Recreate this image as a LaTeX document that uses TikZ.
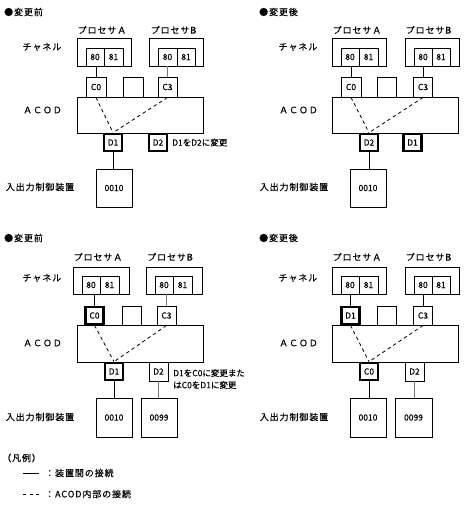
\documentclass[tikz,border=0pt]{standalone}
\usepackage{fontspec}
\setmainfont{Noto Sans CJK JP}[FakeBold=0.3]
\newfontfamily\jpw{Noto Sans CJK JP}[LetterSpace=10,FakeBold=0.3]
\definecolor{lgray}{RGB}{120,120,120}
\begin{document}
\begin{tikzpicture}[x=1pt,y=-1pt,
  lab/.style={inner sep=0pt, font={\jpw\fontsize{9}{11}\selectfont}},
  note/.style={inner sep=0pt, font={\fontsize{8.5}{12}\selectfont}, align=left},
  box/.style={draw, fill=white, line width=0.9pt, inner sep=0pt, font={\fontsize{8.5}{9}\selectfont}},
  tbox/.style={box, line width=2.6pt, minimum width=18, minimum height=17},
  sbox/.style={box, minimum width=19, minimum height=19},
  conn/.style={line width=0.9pt},
  conng/.style={line width=1.8pt, draw=lgray},
  acodline/.style={line width=0.8pt, dash pattern=on 3.5pt off 3pt}]
\useasboundingbox (0,0) rectangle (463,519);
\fill[white] (0,0) rectangle (463,519);

% ===== top-left : before =====
\node[lab, anchor=west] (tlH) at (4,12) {●変更前};
\node[lab] (tlPA) at (102,30) {プロセサＡ};
\node[lab] (tlPB) at (173.5,30) {プロセサB};
\node[lab] (tlCh) at (42,47) {チャネル};
\node[lab] (tlAC) at (42.5,110) {ＡＣＯＤ};
\node[lab] (tlIO) at (40,187) {入出力制御装置};
\node[box, minimum width=54, minimum height=28] (tlA) at (104,52) {};
\node[box, minimum width=18, minimum height=18] (tl80a) at (95,57) {80};
\node[box, minimum width=19, minimum height=18] (tl81a) at (113.5,57) {81};
\node[box, minimum width=54, minimum height=28] (tlB) at (176,52) {};
\node[box, minimum width=19, minimum height=18] (tl80b) at (167.5,57) {80};
\node[box, minimum width=18, minimum height=18] (tl81b) at (186,57) {81};
\node[box, minimum width=126, minimum height=36] (tlACb) at (140,115) {};
\node[box, minimum width=20, minimum height=20] (tlC0) at (96,87) {C0};
\node[box, minimum width=20, minimum height=20] (tlE) at (133,87) {};
\node[box, minimum width=19, minimum height=20] (tlC3) at (167.5,87) {C3};
\draw[conn] (tlC0.north) -- (tlC0.north |- tl80a.south);
\draw[conng] (tlC3.north) -- (tlC3.north |- tl80b.south);
\node[box, minimum width=36, minimum height=38] (tl0010) at (114,188) {0010};
\node[tbox] (tlD1) at (113,142.5) {D1};
\node[tbox] (tlD2) at (158,142.5) {D2};
\draw[acodline] (tlC0.south) -- (tlD1.north);
\draw[acodline] (tlC3.south) -- (tlD1.north);
\draw[conn] (tlD1.south) -- (tlD1.south |- tl0010.north);
\node[note, anchor=west] (tlN) at (172,142.5) {D1をD2に変更};

% ===== top-right : after =====
\node[lab, anchor=west] (trH) at (259,12) {●変更後};
\node[lab] (trPA) at (357,30) {プロセサＡ};
\node[lab] (trPB) at (428.5,30) {プロセサB};
\node[lab] (trCh) at (298,47) {チャネル};
\node[lab] (trAC) at (298.5,110) {ＡＣＯＤ};
\node[lab] (trIO) at (294,187) {入出力制御装置};
\node[box, minimum width=54, minimum height=28] (trA) at (359,52) {};
\node[box, minimum width=18, minimum height=18] (tr80a) at (350,57) {80};
\node[box, minimum width=19, minimum height=18] (tr81a) at (368.5,57) {81};
\node[box, minimum width=54, minimum height=28] (trB) at (432,52) {};
\node[box, minimum width=18, minimum height=18] (tr80b) at (423,57) {80};
\node[box, minimum width=18, minimum height=18] (tr81b) at (441,57) {81};
\node[box, minimum width=126, minimum height=36] (trACb) at (395,115) {};
\node[box, minimum width=20, minimum height=20] (trC0) at (351,87) {C0};
\node[box, minimum width=19, minimum height=20] (trE) at (387,87) {};
\node[box, minimum width=19, minimum height=20] (trC3) at (423,87) {C3};
\draw[conn] (trC0.north) -- (trC0.north |- tr80a.south);
\draw[conn] (trC3.north) -- (trC3.north |- tr80b.south);
\node[box, minimum width=36, minimum height=38] (tr0010) at (368,188) {0010};
\node[tbox] (trD2) at (369,142.5) {D2};
\node[tbox] (trD1) at (412.5,142.5) {D1};
\draw[acodline] (trC0.south) -- (trD2.north);
\draw[acodline] (trC3.south) -- (trD2.north);
\draw[conn] (trD2.south) -- (trD2.south |- tr0010.north);

% ===== bottom-left : before =====
\node[lab, anchor=west] (blH) at (4,238) {●変更前};
\node[lab] (blPA) at (98,257) {プロセサＡ};
\node[lab] (blPB) at (170,257) {プロセサB};
\node[lab] (blCh) at (42,278) {チャネル};
\node[lab] (blAC) at (42.5,343) {ＡＣＯＤ};
\node[lab] (blIO) at (40,417) {入出力制御装置};
\node[box, minimum width=56, minimum height=27] (blA) at (101,280.5) {};
\node[box, minimum width=18, minimum height=18] (bl80a) at (91,285) {80};
\node[box, minimum width=19, minimum height=18] (bl81a) at (109.5,285) {81};
\node[box, minimum width=56, minimum height=27] (blB) at (174,280.5) {};
\node[box, minimum width=18, minimum height=18] (bl80b) at (164,285) {80};
\node[box, minimum width=19, minimum height=18] (bl81b) at (182.5,285) {81};
\node[box, minimum width=126, minimum height=37] (blACb) at (140,343.5) {};
\node[tbox] (blC0) at (94.5,315.5) {C0};
\node[sbox] (blE) at (131.5,315.5) {};
\node[sbox] (blC3) at (166.5,315.5) {C3};
\draw[conn] (blC0.north) -- (blC0.north |- bl80a.south);
\draw[conng] (blC3.north) -- (blC3.north |- bl80b.south);
\node[box, minimum width=36, minimum height=39] (bl0010) at (114,417.5) {0010};
\node[box, minimum width=36, minimum height=39] (bl0099) at (159,417.5) {0099};
\node[tbox] (blD1) at (114,371.5) {D1};
\node[sbox] (blD2) at (158.5,371.5) {D2};
\draw[acodline] (blC0.south) -- (blD1.north);
\draw[acodline] (blC3.south) -- (blD1.north);
\draw[conn] (blD1.south) -- (blD1.south |- bl0010.north);
\draw[conng] (blD2.south) -- (blD2.south |- bl0099.north);
\node[note, anchor=west] (blN) at (173,379) {D1をC0に変更また\\はC0をD1に変更};

% ===== bottom-right : after =====
\node[lab, anchor=west] (brH) at (259,238) {●変更後};
\node[lab] (brPA) at (357,257) {プロセサＡ};
\node[lab] (brPB) at (428.5,257) {プロセサB};
\node[lab] (brCh) at (298,278) {チャネル};
\node[lab] (brAC) at (298.5,343) {ＡＣＯＤ};
\node[lab] (brIO) at (294,417) {入出力制御装置};
\node[box, minimum width=54, minimum height=27] (brA) at (359,280.5) {};
\node[box, minimum width=18, minimum height=18] (br80a) at (350,285) {80};
\node[box, minimum width=19, minimum height=18] (br81a) at (368.5,285) {81};
\node[box, minimum width=54, minimum height=27] (brB) at (432,280.5) {};
\node[box, minimum width=18, minimum height=18] (br80b) at (423,285) {80};
\node[box, minimum width=18, minimum height=18] (br81b) at (441,285) {81};
\node[box, minimum width=126, minimum height=37] (brACb) at (395,343.5) {};
\node[tbox] (brD1) at (350.5,315.5) {D1};
\node[sbox] (brE) at (387,315.5) {};
\node[sbox] (brC3) at (423,315.5) {C3};
\draw[conn] (brD1.north) -- (brD1.north |- br80a.south);
\draw[conn] (brC3.north) -- (brC3.north |- br80b.south);
\node[box, minimum width=36, minimum height=39] (br0010) at (368,417.5) {0010};
\node[box, minimum width=37, minimum height=39] (br0099) at (413.5,417.5) {0099};
\node[tbox] (brC0) at (369,371.5) {C0};
\node[sbox] (brD2) at (414.5,371.5) {D2};
\draw[acodline] (brD1.south) -- (brC0.north);
\draw[acodline] (brC3.south) -- (brC0.north);
\draw[conn] (brC0.south) -- (brC0.south |- br0010.north);
\draw[conng] (brD2.south) -- (brD2.south |- br0099.north);

% ===== legend =====
\node[lab, anchor=west] (lgT) at (2,458) {（凡例）};
\coordinate (lgS1) at (23,473);
\coordinate (lgS2) at (39,473);
\coordinate (lgD1) at (23,494);
\coordinate (lgD2) at (39,494);
\draw[conn] (lgS1) -- (lgS2);
\draw[line width=0.9pt, dash pattern=on 3pt off 3.5pt] (lgD1) -- (lgD2);
\node[lab, anchor=west] (lgL1) at (45,473) {：装置間の接続};
\node[lab, anchor=west] (lgL2) at (45,494) {：ACOD内部の接続};
\end{tikzpicture}
\end{document}
